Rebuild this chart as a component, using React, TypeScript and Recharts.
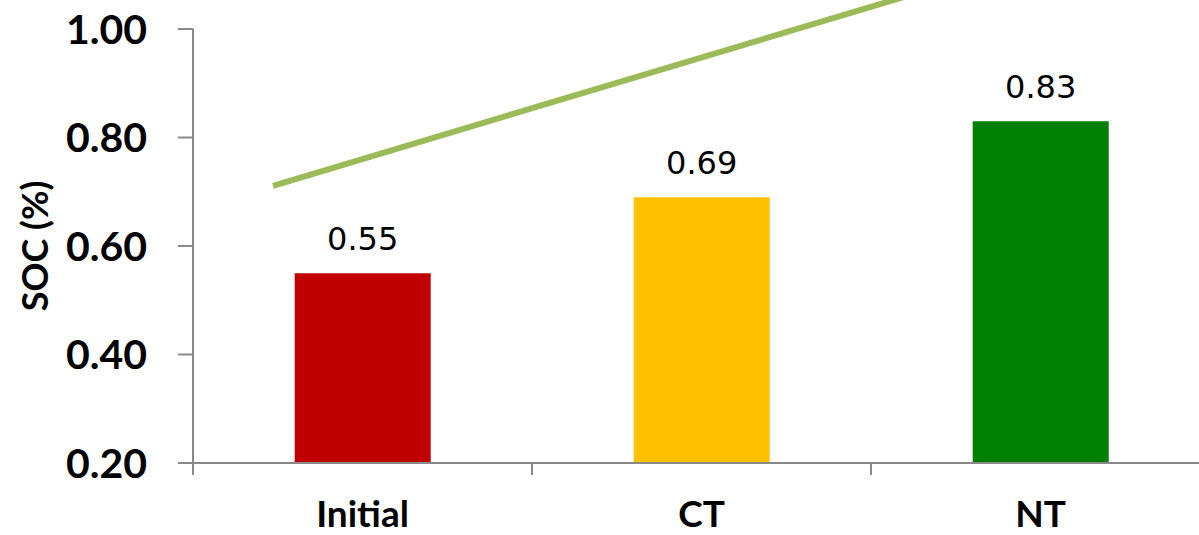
import { ComposedChart, Bar, Cell, XAxis, YAxis, LabelList, ReferenceLine } from 'recharts';

const treatments = ['Initial', 'CT', 'NT'];
const socValues = [0.55, 0.69, 0.83];
const barColors = ['#C00000', '#FFC000', '#008000'];
const yTicks = [0.2, 0.4, 0.6, 0.8, 1.0];

// trend arrow, in (category position, SOC) units
const trendX = [0.236, 2.3];
const trendY = [0.711, 1.097];

const data = treatments.map((name, i) => ({ name, soc: socValues[i] }));

const AXIS_GRAY = '#898989';
const BOLD_FONT = 'Lato, "Open Sans", sans-serif';

// category label plus a tick mark on the left edge of each band
function CategoryTick(props: any) {
  const { x, y, payload, width } = props;
  const half = payload?.offset ?? width / (2 * treatments.length);
  return (
    <g>
      <line x1={x - half} y1={y} x2={x - half} y2={y + 12} stroke={AXIS_GRAY} strokeWidth={2} />
      <text
        x={x}
        y={y + 38}
        dy="0.71em"
        textAnchor="middle"
        fontFamily={BOLD_FONT}
        fontWeight={700}
        fontSize={37}
        fill="#000"
      >
        {payload.value}
      </text>
    </g>
  );
}

export default function App() {
  return (
    <div
      style={{
        position: 'fixed',
        left: 0,
        top: 0,
        width: 1199,
        height: 535,
        overflow: 'hidden',
        background: '#fff',
      }}
    >
      <ComposedChart
        width={1260}
        height={535}
        data={data}
        margin={{ top: 29, right: 50, bottom: 0, left: 0 }}
        barCategoryGap="30%"
      >
        <XAxis
          xAxisId="cat"
          dataKey="name"
          height={72}
          tickLine={false}
          tickSize={0}
          tickMargin={0}
          axisLine={{ stroke: AXIS_GRAY, strokeWidth: 2 }}
          tick={<CategoryTick />}
          interval={0}
        />
        <XAxis
          xAxisId="num"
          dataKey="pos"
          type="number"
          domain={[0, treatments.length]}
          allowDataOverflow
          hide
        />
        <YAxis
          width={193}
          domain={[0.2, 1.0]}
          ticks={yTicks}
          interval={0}
          tickFormatter={(v: number) => v.toFixed(2)}
          tickSize={15}
          tickMargin={31}
          axisLine={{ stroke: AXIS_GRAY, strokeWidth: 2 }}
          tickLine={{ stroke: AXIS_GRAY, strokeWidth: 2 }}
          tick={{ fill: '#000', fontFamily: BOLD_FONT, fontWeight: 700, fontSize: 41 }}
          label={{
            value: 'SOC (%)',
            angle: -90,
            position: 'insideLeft',
            content: (p: any) => {
              const vb = p.viewBox;
              const cx = 34;
              const cy = vb.y + vb.height / 2;
              return (
                <text
                  x={cx}
                  y={cy}
                  transform={`rotate(-90 ${cx} ${cy})`}
                  textAnchor="middle"
                  dominantBaseline="central"
                  fontFamily={BOLD_FONT}
                  fontWeight={700}
                  fontSize={36}
                  fill="#000"
                >
                  SOC (%)
                </text>
              );
            },
          }}
        />
        <Bar xAxisId="cat" dataKey="soc" isAnimationActive={false}>
          {data.map((d, i) => (
            <Cell key={d.name} fill={barColors[i]} />
          ))}
          <LabelList
            dataKey="soc"
            position="top"
            offset={23}
            formatter={(v: any) => Number(v).toFixed(2)}
            style={{ fontFamily: '"DejaVu Sans", sans-serif', fontSize: 32, fill: '#000' }}
          />
        </Bar>
        <ReferenceLine
          xAxisId="num"
          ifOverflow="visible"
          segment={[
            { x: trendX[0], y: trendY[0] },
            { x: trendX[1], y: trendY[1] },
          ]}
          stroke="#9BBB59"
          strokeWidth={6}
        />
      </ComposedChart>
    </div>
  );
}
